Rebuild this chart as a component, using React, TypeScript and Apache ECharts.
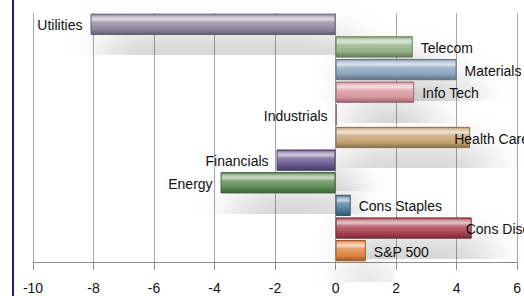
import React, { useEffect, useRef } from "react";
import * as echarts from "echarts";

const categories = [
  "Utilities",
  "Telecom",
  "Materials",
  "Info Tech",
  "Industrials",
  "Health Care",
  "Financials",
  "Energy",
  "Cons Staples",
  "Cons Disc",
  "S&P 500",
];
const values = [-8.1, 2.55, 4.0, 2.6, 0.05, 4.45, -1.95, -3.8, 0.5, 4.5, 1.0];
const barColors = [
  "#8f86a0",
  "#8fb080",
  "#8aa2ba",
  "#d8949c",
  "#e0a0a8",
  "#c4a070",
  "#6a5890",
  "#5a8a50",
  "#4a7a9c",
  "#a84050",
  "#e0803a",
];
const tickValues = { min: -10, max: 6, step: 2 };

// label tweaks (style, not data)
const labelOffsets: Record<string, [number, number]> = {
  "Health Care": [-24, 1],
  "Cons Disc": [-14, 1],
};
const leftLabels = new Set(["Industrials"]);

const FONT = "'Liberation Sans', Arial, sans-serif";

function hexToRgb(h: string) {
  const n = parseInt(h.slice(1), 16);
  return [(n >> 16) & 255, (n >> 8) & 255, n & 255];
}
function mix(h: string, target: number, t: number) {
  const [r, g, b] = hexToRgb(h);
  const f = (c: number) => Math.round(c + (target - c) * t);
  return `rgb(${f(r)},${f(g)},${f(b)})`;
}
function glossy(base: string) {
  return new echarts.graphic.LinearGradient(0, 0, 0, 1, [
    { offset: 0, color: mix(base, 0, 0.05) },
    { offset: 0.12, color: mix(base, 255, 0.45) },
    { offset: 0.25, color: mix(base, 255, 0.7) },
    { offset: 0.4, color: mix(base, 255, 0.25) },
    { offset: 0.75, color: base },
    { offset: 1, color: mix(base, 0, 0.3) },
  ]);
}

export default function App() {
  const ref = useRef<HTMLDivElement>(null);
  useEffect(() => {
    if (!ref.current) return;
    const chart = echarts.init(ref.current, undefined, { renderer: "svg" });
    const data = values.map((v, i) => {
      const name = categories[i];
      const left = v < 0 || leftLabels.has(name);
      return {
        value: v,
        name,
        itemStyle: {
          color: glossy(barColors[i]),
          borderColor: mix(barColors[i], 0, 0.3),
          borderWidth: 1,
          shadowColor: "rgba(0,0,0,0.38)",
          shadowBlur: 40,
          shadowOffsetX: 16,
          shadowOffsetY: 32,
        },
        label: {
          position: left ? "left" : "right",
          offset: labelOffsets[name] || [0, 1],
        },
      };
    });
    chart.setOption({
      animation: false,
      backgroundColor: "#ffffff",
      grid: { left: 33, right: 5, top: 13, bottom: 34, containLabel: false },
      xAxis: {
        type: "value",
        min: tickValues.min,
        max: tickValues.max,
        interval: tickValues.step,
        axisLine: { show: true, lineStyle: { color: "#8c8c8c", width: 1 } },
        axisTick: { show: true, length: 8, lineStyle: { color: "#8c8c8c" } },
        splitLine: { show: true, lineStyle: { color: "#a6a6a6", width: 1 } },
        axisLabel: {
          color: "#111",
          fontSize: 14,
          fontFamily: FONT,
          margin: 19,
        },
      },
      yAxis: {
        type: "category",
        inverse: true,
        data: categories,
        show: false,
      },
      graphic: [
        {
          type: "rect",
          left: 12,
          top: 0,
          shape: { width: 2, height: 296 },
          style: { fill: "#1c1c8c" },
        },
      ],
      series: [
        {
          type: "bar",
          data,
          barCategoryGap: "6%",
          label: {
            show: true,
            formatter: "{b}",
            color: "#111",
            fontSize: 14,
            fontFamily: FONT,
            distance: 8,
          },
        },
      ],
    });
    return () => chart.dispose();
  }, []);
  return (
    <div
      ref={ref}
      style={{ position: "fixed", left: 0, top: 0, width: 524, height: 296, background: "#fff" }}
    />
  );
}
